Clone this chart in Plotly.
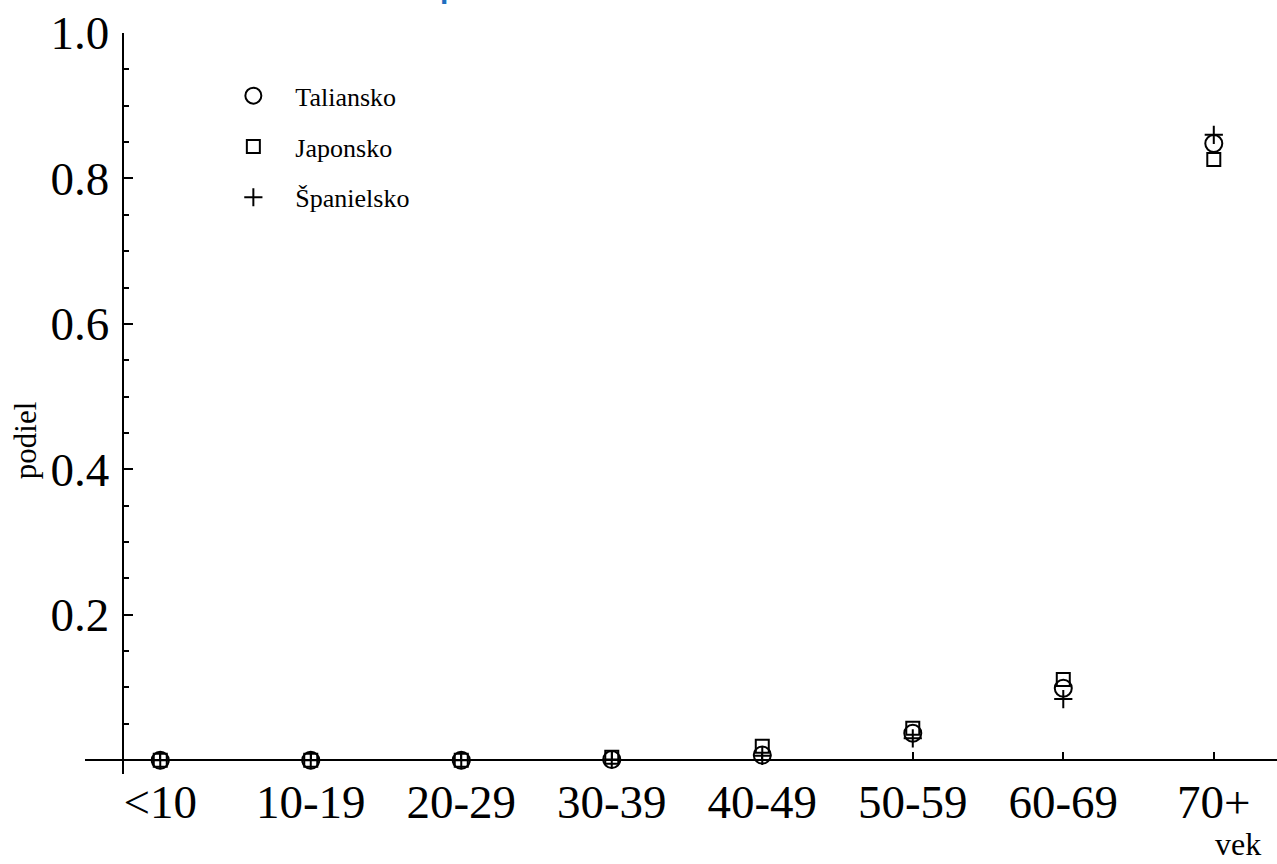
import plotly.graph_objects as go

categories = ["<10", "10-19", "20-29", "30-39", "40-49", "50-59", "60-69", "70+"]
taliansko = [0.0, 0.0, 0.0, 0.001, 0.007, 0.037, 0.099, 0.848]
japonsko = [0.0, 0.0, 0.0, 0.004, 0.019, 0.044, 0.111, 0.826]
spanielsko = [0.0, 0.0, 0.0, 0.001, 0.006, 0.030, 0.084, 0.860]
y_ticks = [0.2, 0.4, 0.6, 0.8, 1.0]
y_ticktext = ["0.2", "0.4", "0.6", "0.8", "1.0"]

xpos = list(range(len(categories)))
serif = "Liberation Serif"

fig = go.Figure()
series = [
    ("Taliansko", taliansko, "circle-open", 17),
    ("Japonsko", japonsko, "square-open", 13),
    ("Španielsko", spanielsko, "cross-thin-open", 13),
]
for i, (name, vals, sym, size) in enumerate(series):
    fig.add_trace(go.Scatter(
        x=xpos, y=vals, mode="markers", name=name, legendgroup=f"g{i}",
        marker=dict(symbol=sym, size=size, color="black",
                    line=dict(color="black", width=2)),
    ))

xr = [-0.5, 7.42]
yr = [-0.019, 1.0]
ypos_frac = (-0.25 - xr[0]) / (xr[1] - xr[0])
xpos_frac = (0 - yr[0]) / (yr[1] - yr[0])

fig.update_layout(
    width=1277, height=864,
    margin=dict(l=85, r=0, t=33, b=90),
    paper_bgcolor="white", plot_bgcolor="white",
    showlegend=True,
    legend=dict(
        x=0.106, y=0.947, xanchor="left", yanchor="top",
        font=dict(family=serif, size=26, color="black"),
        traceorder="grouped", tracegroupgap=14, itemwidth=74,
        bgcolor="rgba(0,0,0,0)",
    ),
    xaxis=dict(
        range=xr, tickmode="array", tickvals=xpos, ticktext=categories,
        showgrid=False, zeroline=False, showline=True, linecolor="black",
        linewidth=2, ticks="inside", ticklen=7, tickwidth=2, tickcolor="black",
        anchor="free", position=xpos_frac, automargin=False,
        tickfont=dict(family=serif, size=47, color="black"),
        ticklabelstandoff=0,
    ),
    yaxis=dict(
        range=yr, tickmode="array", tickvals=y_ticks, ticktext=y_ticktext,
        showgrid=False, zeroline=False, showline=True, linecolor="black",
        linewidth=2, ticks="inside", ticklen=9, tickwidth=2, tickcolor="black",
        minor=dict(dtick=0.05, tick0=0, ticks="inside", ticklen=5,
                   tickwidth=1.5, tickcolor="black", showgrid=False),
        anchor="free", position=ypos_frac, automargin=False,
        tickfont=dict(family=serif, size=47, color="black"),
        ticklabelstandoff=3,
    ),
    annotations=[
        dict(text="podiel", xref="paper", yref="paper", x=-0.05, y=0.451,
             textangle=-90, showarrow=False, xanchor="center", yanchor="middle",
             font=dict(family=serif, size=31, color="black")),
        dict(text="vek", xref="paper", yref="paper", x=0.967, y=-0.095,
             showarrow=False, xanchor="center", yanchor="middle",
             font=dict(family=serif, size=32, color="black")),
        dict(text="<b>p</b>", xref="paper", yref="paper", x=0.305, y=1.036,
             showarrow=False, xanchor="center", yanchor="bottom",
             font=dict(family="Liberation Sans", size=30, color="#1f6fbf")),
    ],
)

fig.write_html("out.html", config={"displayModeBar": False})

# remove the default page margin so the figure sits at the window's corner
with open("out.html", "r", encoding="utf-8") as f:
    html = f.read()
html = html.replace("<head>", "<head><style>html,body{margin:0;padding:0;}</style>", 1)
with open("out.html", "w", encoding="utf-8") as f:
    f.write(html)
